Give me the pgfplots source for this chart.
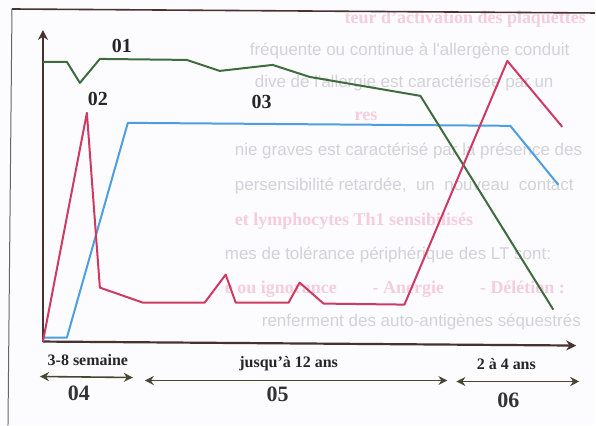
\documentclass[border=0pt]{standalone}
\usepackage{fontspec}
\setmainfont{Liberation Serif}
\newfontfamily\bgsans{Liberation Sans}
\usepackage{pgfplots}
\pgfplotsset{compat=1.18}
\usetikzlibrary{arrows.meta}
\definecolor{cgreen}{RGB}{62,108,62}
\definecolor{cred}{RGB}{206,58,98}
\definecolor{cblue}{RGB}{78,158,226}
\definecolor{caxis}{RGB}{72,50,48}
\definecolor{carrow}{RGB}{72,70,48}
\definecolor{bggray}{RGB}{210,210,217}
\definecolor{bgpink}{RGB}{245,205,222}
\definecolor{paper}{RGB}{252,251,253}
\newcommand\bgg{\bgsans\fontsize{17}{20}\selectfont\color{bggray}}
\newcommand\bgp{\bfseries\fontsize{18}{20}\selectfont\color{bgpink}}
\begin{document}
\begin{tikzpicture}
\begin{axis}[at={(0,0)}, anchor=south west, scale only axis,
  width=596pt, height=426pt, xmin=0, xmax=596, ymin=0, ymax=426,
  y dir=reverse, hide axis, clip=false]
\fill[paper] (axis cs:0,0) rectangle (axis cs:596,426);
% faint show-through text of the scanned page
\node[anchor=base west, inner sep=0pt, font=\bgp] at (axis cs:345,24) {teur d'activation des plaquettes};
\node[anchor=base west, inner sep=0pt, font=\bgg] at (axis cs:250,56) {fréquente ou continue à l'allergène conduit};
\node[anchor=base west, inner sep=0pt, font=\bgg] at (axis cs:255,88) {dive de l'allergie est caractérisée par un};
\node[anchor=base west, inner sep=0pt, font=\bgp] at (axis cs:355,121) {res};
\node[anchor=base west, inner sep=0pt, font=\bgg] at (axis cs:235,156) {nie graves est caractérisé par la présence des};
\node[anchor=base west, inner sep=0pt, font=\bgg] at (axis cs:235,191) {persensibilité retardée,\ \ un\ \ nouveau\ \ contact};
\node[anchor=base west, inner sep=0pt, font=\bgp] at (axis cs:235,226) {et lymphocytes Th1 sensibilisés};
\node[anchor=base west, inner sep=0pt, font=\bgg] at (axis cs:225,260) {mes de tolérance périphérique des LT sont:};
\node[anchor=base west, inner sep=0pt, font=\bgp] at (axis cs:225,294) {e ou ignorance\qquad - Anergie\qquad - Délétion :};
\node[anchor=base west, inner sep=0pt, font=\bgg] at (axis cs:262,327) {renferment des auto-antigènes séquestrés};
% frame of the scanned figure
\draw[caxis, line width=1.6pt] (axis cs:12,9) -- (axis cs:596,13);
\draw[black!60, line width=1pt] (axis cs:12,9) -- (axis cs:8,426);
% axes
\draw[caxis, line width=2.2pt, -{Stealth[length=10pt,width=10pt]}] (axis cs:43,342) -- (axis cs:577,346);
\draw[caxis, line width=2.2pt, -{Stealth[length=10pt,width=10pt]}] (axis cs:43,342) -- (axis cs:43,30);
% curves
\addplot[cblue, line width=2pt, line join=round] coordinates {
 (43,338) (67,338) (128,123) (511,126) (559,185)};
\addplot[cgreen, line width=2pt, line join=round] coordinates {
 (43,62) (67,62) (80,83) (100,59) (187,60) (220,71) (273,65) (310,77) (421,96) (554,310)};
\addplot[cred, line width=2pt, line join=round] coordinates {
 (43,342) (87,113) (100,288) (143,303) (205,303) (226,275) (236,303) (289,303) (300,283) (324,304) (405,305) (508,61) (563,127)};
% curve labels
\node[font=\bfseries\fontsize{20}{22}\selectfont, text=black!85] at (axis cs:122,46) {01};
\node[font=\bfseries\fontsize{20}{22}\selectfont, text=black!85] at (axis cs:98,99) {02};
\node[font=\bfseries\fontsize{20}{22}\selectfont, text=black!85] at (axis cs:262,102) {03};
% period texts
\node[anchor=base, inner sep=0pt, font=\bfseries\fontsize{16}{18}\selectfont, text=black!85] at (axis cs:88,366) {3-8 semaine};
\node[anchor=base, inner sep=0pt, font=\bfseries\fontsize{16}{18}\selectfont, text=black!85] at (axis cs:289,368) {jusqu'à 12 ans};
\node[anchor=base, inner sep=0pt, font=\bfseries\fontsize{16}{18}\selectfont, text=black!85] at (axis cs:507,370) {2 à 4 ans};
% period arrows
\draw[carrow, line width=1.6pt, {Stealth[length=9pt,width=9pt]}-{Stealth[length=9pt,width=9pt]}] (axis cs:40,377) -- (axis cs:133,378);
\draw[carrow, line width=1.6pt, {Stealth[length=9pt,width=9pt]}-{Stealth[length=9pt,width=9pt]}] (axis cs:145,381) -- (axis cs:448,381);
\draw[carrow, line width=1.6pt, {Stealth[length=9pt,width=9pt]}-{Stealth[length=9pt,width=9pt]}] (axis cs:457,382) -- (axis cs:580,382);
\node[font=\bfseries\fontsize{22}{24}\selectfont, text=black!80] at (axis cs:79,394) {04};
\node[font=\bfseries\fontsize{22}{24}\selectfont, text=black!80] at (axis cs:278,395) {05};
\node[font=\bfseries\fontsize{22}{24}\selectfont, text=black!80] at (axis cs:509,401) {06};
\end{axis}
\end{tikzpicture}
\end{document}
